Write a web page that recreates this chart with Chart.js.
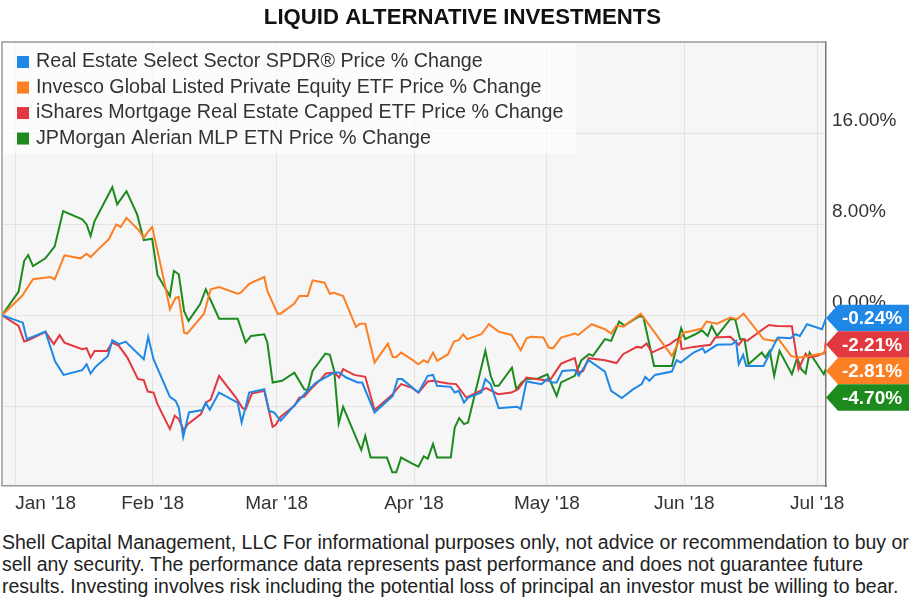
<!DOCTYPE html>
<html>
<head>
<meta charset="utf-8">
<script src="https://cdn.jsdelivr.net/npm/chart.js@4.4.1/dist/chart.umd.min.js"></script>
<style>
  body { margin: 0; background: #fff; font-family: "Liberation Sans", Arial, sans-serif; }
  #note { margin-top: 11px; padding-left: 2px; font-size: 19.5px; line-height: 22px; color: #222; white-space: nowrap; }
</style>
</head>
<body>
<canvas id="chart" width="923" height="520"></canvas>
<div id="note">Shell Capital Management, LLC For informational purposes only, not advice or recommendation to buy or<br>sell any security. The performance data represents past performance and does not guarantee future<br>results. Investing involves risk including the potential loss of principal an investor must be willing to bear.</div>
<script>
// days counted from Jan 1 2018, values are % change since Dec 29 2017
var monthDays = [0, 31, 59, 90, 120, 151, 181];
var monthLabels = ["Jan '18", "Feb '18", "Mar '18", "Apr '18", "May '18", "Jun '18", "Jul '18"];
var yTicks = [-8, 0, 8, 16];

var realEstateDays = [-3, 1.7, 2.6, 6.8, 9.0, 10.9, 15.1, 16.1, 17.0, 18.1, 20.9, 21.9, 23.4, 24.9, 29.0, 30.0, 31.2, 34.9, 36.2, 36.9, 37.9, 39.2, 42.2, 43.0, 43.9, 46.0, 50.2, 51.1, 52.8, 56.2, 57.3, 58.4, 59.9, 65.6, 67.9, 72.0, 73.1, 74.7, 77.3, 78.3, 81.1, 85.2, 86.3, 87.3, 91.0, 93.1, 94.3, 95.2, 98.3, 99.2, 100.1, 101.3, 102.2, 105.2, 106.1, 107.3, 109.1, 113.3, 114.1, 115.4, 118.8, 120.1, 121.2, 122.2, 123.5, 126.3, 127.2, 129.4, 133.1, 134.5, 136.9, 139.5, 141.4, 142.2, 143.1, 144.4, 148.2, 149.3, 150.2, 153.1, 155.2, 155.7, 156.9, 158.4, 161.8, 162.7, 163.3, 164.3, 165.0, 168.9, 170.4, 172.1, 175.0, 176.1, 177.1, 178.7, 182.1, 183];
var realEstatePct = [0, -0.65, -2.1, -1.44, -4.07, -5.24, -4.82, -4.3, -5.12, -4.54, -3.57, -2.19, -2.54, -2.31, -3.86, -1.9, -3.86, -7.17, -7.52, -8.1, -10.7, -8.54, -8.33, -7.7, -8.3, -6.79, -7.67, -9.42, -6.79, -6.49, -8.4, -8.54, -9.27, -6.79, -5.91, -5.04, -5.04, -5.47, -5.91, -5.91, -8.54, -7.08, -5.61, -5.61, -6.79, -5.32, -5.24, -6.2, -6.29, -6.79, -6.64, -7.67, -7.23, -6.79, -5.61, -6.05, -8.16, -8.04, -8.25, -5.82, -6.05, -5.61, -5.91, -5.91, -4.89, -4.82, -5.32, -3.95, -4.95, -6.64, -7.28, -6.49, -6.05, -5.41, -5.76, -5.24, -4.95, -3.95, -4.16, -3.28, -2.9, -3.28, -2.98, -2.6, -2.54, -2.25, -4.3, -3.48, -4.45, -4.45, -3.28, -1.96, -2.02, -1.67, -1.82, -0.79, -1.23, -0.24];

var privateEquityDays = [-3, 1.5, 4.0, 7.9, 8.9, 11.1, 14.7, 16.1, 17.0, 18.5, 21.1, 22.8, 23.8, 25.1, 27.9, 29.0, 29.8, 30.9, 32.1, 33.6, 34.9, 36.2, 36.9, 38.1, 38.8, 42.6, 44.1, 46.0, 50.2, 50.9, 52.8, 56.2, 56.9, 59.2, 59.9, 63.0, 64.1, 66.0, 67.1, 69.8, 71.0, 72.0, 74.0, 76.9, 77.8, 79.0, 81.1, 84.1, 85.2, 86.0, 87.1, 89.4, 91.0, 92.2, 93.1, 94.3, 95.2, 97.7, 99.0, 100.1, 101.1, 102.0, 105.2, 106.9, 109.1, 112.0, 114.1, 115.4, 116.5, 119.2, 120.4, 121.4, 123.2, 126.3, 127.1, 128.4, 130.1, 133.1, 134.5, 135.7, 137.3, 141.2, 148.2, 149.7, 150.8, 152.7, 155.0, 156.0, 158.4, 161.4, 162.9, 164.4, 168.9, 171.2, 172.3, 175.1, 176.5, 178.0, 181.0, 182.5, 183];
var privateEquityPct = [0, 1.69, 3.16, 3.36, 3.16, 5.26, 5.0, 5.4, 5.11, 5.7, 6.67, 7.98, 7.75, 8.56, 7.46, 6.8, 7.25, 7.75, 5.64, 3.0, 0.53, 1.54, 1.6, -1.53, -1.61, 0.14, 2.28, 2.48, 1.89, 1.98, 2.77, 3.36, 2.13, 0.14, 0.14, 1.02, 1.69, 1.69, 3.07, 2.86, 1.89, 1.98, 1.69, -1.03, -0.74, -0.74, -4.16, -2.49, -3.66, -3.66, -3.28, -3.86, -4.3, -3.95, -4.16, -3.28, -4.0, -3.42, -2.31, -2.19, -1.67, -2.1, -1.67, -0.79, -1.44, -1.73, -3.07, -2.02, -1.9, -1.96, -2.84, -2.89, -1.96, -1.61, -1.73, -1.32, -0.79, -1.23, -1.61, -0.9, -1.0, 0.14, -3.57, -2.4, -1.53, -1.38, -1.17, -0.56, -0.74, -0.21, -0.35, 0.14, -2.1, -2.25, -2.1, -3.57, -3.72, -3.66, -3.42, -3.37, -2.81];

var mortgageDays = [-3, 0.75, 2.0, 3.0, 6.8, 8.7, 10.0, 11.1, 15.1, 16.1, 17.0, 17.9, 20.7, 21.9, 23.4, 25.3, 27.7, 29.0, 29.9, 31.2, 32.1, 34.9, 36.0, 36.9, 38.1, 38.8, 41.9, 43.0, 44.1, 46.0, 49.8, 51.3, 52.0, 53.4, 56.2, 56.9, 58.1, 58.8, 59.9, 63.0, 64.1, 65.2, 66.7, 69.0, 70.1, 72.0, 73.1, 74.0, 76.5, 79.0, 81.1, 85.2, 87.1, 89.4, 91.0, 93.1, 94.3, 97.7, 99.5, 101.8, 104.1, 106.3, 109.0, 112.0, 113.5, 115.4, 117.6, 120.6, 123.2, 126.3, 127.1, 128.2, 129.4, 133.1, 135.7, 137.2, 140.3, 141.4, 142.5, 143.7, 147.8, 149.0, 150.1, 150.4, 153.1, 156.9, 158.0, 161.4, 163.3, 164.3, 165.2, 168.2, 170.1, 171.9, 175.3, 176.8, 178.4, 179.1, 181.0, 182.7, 183];
var mortgagePct = [0, -0.94, -2.31, -2.19, -1.46, -2.54, -1.75, -2.4, -2.98, -2.9, -3.72, -3.13, -3.13, -2.4, -2.69, -3.72, -5.61, -5.7, -6.7, -6.79, -7.81, -10.0, -8.83, -9.12, -10.15, -9.62, -8.68, -7.67, -7.4, -5.32, -7.23, -8.16, -8.25, -6.88, -6.64, -7.81, -9.8, -9.62, -8.92, -7.96, -7.23, -7.17, -6.49, -5.61, -5.12, -5.04, -5.47, -4.74, -5.24, -5.41, -8.33, -6.93, -6.05, -6.35, -6.79, -5.82, -5.76, -6.0, -6.05, -7.23, -6.79, -6.4, -6.93, -6.79, -6.49, -5.47, -5.61, -5.76, -4.25, -3.77, -5.04, -4.89, -3.77, -3.95, -4.2, -3.42, -2.78, -2.84, -2.49, -3.28, -2.54, -2.19, -1.96, -2.98, -2.78, -2.6, -1.96, -1.9, -2.6, -2.1, -2.25, -1.38, -0.85, -0.94, -0.97, -4.74, -3.37, -3.72, -3.57, -3.28, -2.21];

var mlpDays = [-3, 0.75, 2.0, 2.9, 4.0, 6.8, 8.9, 10.8, 15.1, 16.1, 17.0, 17.9, 21.9, 23.0, 25.1, 27.5, 29.0, 30.9, 32.1, 34.9, 35.8, 36.9, 38.1, 39.1, 41.7, 43.0, 46.0, 50.2, 52.0, 53.2, 56.2, 56.9, 58.1, 60.2, 63.0, 65.2, 66.0, 67.1, 70.0, 71.0, 72.0, 73.0, 74.0, 78.1, 79.0, 80.2, 83.9, 85.1, 86.0, 87.1, 89.4, 91.0, 92.2, 93.1, 94.3, 95.2, 98.3, 99.2, 100.2, 101.3, 102.2, 106.1, 107.3, 108.2, 109.1, 112.1, 113.1, 114.3, 115.4, 118.0, 120.1, 122.2, 123.2, 126.3, 127.8, 129.5, 130.4, 133.1, 134.5, 136.3, 137.5, 141.0, 141.8, 144.2, 148.2, 150.3, 151.2, 153.5, 155.0, 156.3, 157.2, 158.4, 161.4, 162.5, 163.6, 164.6, 165.5, 168.5, 169.3, 170.3, 171.3, 172.5, 175.3, 176.5, 177.4, 178.4, 179.3, 182.5, 183];
var mlpPct = [0, 2.07, 4.76, 5.29, 4.32, 5.0, 6.05, 9.15, 8.42, 7.98, 6.96, 8.27, 11.25, 9.74, 10.9, 8.86, 6.6, 6.72, 3.54, 1.69, 3.89, 3.6, 0.38, -0.5, 0.96, 2.28, -0.3, -0.3, -2.4, -1.82, -1.67, -2.4, -5.91, -5.76, -5.04, -6.49, -6.58, -4.89, -3.37, -3.48, -4.89, -9.5, -8.04, -11.84, -10.6, -12.5, -12.5, -13.8, -13.8, -12.5, -13.0, -13.3, -12.4, -12.6, -11.3, -12.5, -12.5, -9.86, -9.04, -9.56, -9.42, -3.13, -5.32, -6.2, -6.2, -4.6, -6.5, -5.9, -5.6, -5.56, -5.2, -7.08, -5.9, -5.32, -3.95, -3.42, -3.57, -2.1, -2.25, -0.56, -0.9, -0.06, -0.2, -4.45, -4.45, -1.14, -2.1, -1.67, -1.32, -1.82, -0.94, -1.82, -0.35, -0.35, -2.1, -2.1, -4.3, -3.28, -3.72, -3.13, -5.32, -3.13, -5.18, -3.72, -4.74, -5.12, -3.28, -5.18, -4.70];

var seriesLabels = [
  "Real Estate Select Sector SPDR\u00ae Price % Change",
  "Invesco Global Listed Private Equity ETF Price % Change",
  "iShares Mortgage Real Estate Capped ETF Price % Change",
  "JPMorgan Alerian MLP ETN Price % Change"
];
var seriesColors = ["#1f88e6", "#fd7f23", "#e2383f", "#1d8a1d"];
var seriesDays = [realEstateDays, privateEquityDays, mortgageDays, mlpDays];
var seriesPct = [realEstatePct, privateEquityPct, mortgagePct, mlpPct];

var FONT = '"Liberation Sans", Arial, sans-serif';

var datasets = seriesLabels.map(function (label, i) {
  return {
    label: label,
    data: seriesDays[i].map(function (d, j) { return { x: d, y: seriesPct[i][j] }; }),
    borderColor: seriesColors[i],
    borderWidth: 2,
    pointRadius: 0,
    tension: 0,
    fill: false
  };
});

var framePlugin = {
  id: 'frame',
  beforeDraw: function (chart) {
    var a = chart.chartArea, c = chart.ctx;
    c.save();
    c.fillStyle = '#f6f6f6';
    c.fillRect(a.left, a.top, a.right - a.left, a.bottom - a.top);
    c.restore();
  },
  afterDatasetsDraw: function (chart) {
    var a = chart.chartArea, c = chart.ctx;
    c.save();
    c.strokeStyle = '#9a9a9a';
    c.lineWidth = 1.5;
    c.beginPath();
    c.moveTo(a.left, a.bottom);
    c.lineTo(a.left, a.top);
    c.lineTo(a.right, a.top);
    c.stroke();
    // legend box inside the plot
    c.fillStyle = 'rgba(255,255,255,0.65)';
    c.fillRect(a.left + 1, a.top + 1, 573, 111);
    c.font = '19.7px ' + FONT;
    c.textBaseline = 'middle';
    chart.data.datasets.forEach(function (ds, i) {
      var y = a.top + 20 + i * 25.5;
      c.fillStyle = ds.borderColor;
      c.fillRect(17, y - 6, 12, 12);
      c.fillStyle = '#333';
      c.fillText(ds.label, 36, y);
    });
    c.restore();
  },
  afterDraw: function (chart) {
    var a = chart.chartArea, c = chart.ctx, ys = chart.scales.y;
    var items = chart.data.datasets.map(function (ds) {
      var last = ds.data[ds.data.length - 1].y;
      return { v: last, color: ds.borderColor };
    }).sort(function (p, q) { return q.v - p.v; });
    var h = 26.5, prev = -1e9;
    c.save();
    c.font = 'bold 19px ' + FONT;
    c.textAlign = 'center';
    c.textBaseline = 'middle';
    items.forEach(function (it) {
      var cy = Math.max(ys.getPixelForValue(it.v), prev + h);
      prev = cy;
      var x0 = a.right;
      c.fillStyle = it.color;
      c.beginPath();
      c.moveTo(x0, cy);
      c.lineTo(x0 + 12, cy - h / 2);
      c.lineTo(x0 + 83, cy - h / 2);
      c.lineTo(x0 + 83, cy + h / 2);
      c.lineTo(x0 + 12, cy + h / 2);
      c.closePath();
      c.fill();
      c.fillStyle = '#fff';
      c.fillText(it.v.toFixed(2) + '%', x0 + 46, cy + 1);
    });
    c.restore();
  }
};

var ctx = document.getElementById('chart').getContext('2d');
var chart = new Chart(ctx, {
  type: 'line',
  data: { datasets: datasets },
  options: {
    responsive: false,
    animation: false,
    layout: { padding: { left: 2, right: 0, top: 0, bottom: 5 } },
    plugins: {
      legend: { display: false },
      tooltip: { enabled: false },
      title: {
        display: true,
        text: 'LIQUID ALTERNATIVE INVESTMENTS',
        color: '#111',
        font: { family: FONT, size: 22.2, weight: 'bold' },
        padding: { top: 5, bottom: 10.4 }
      }
    },
    scales: {
      x: {
        type: 'linear',
        min: -3,
        max: 183,
        afterBuildTicks: function (s) {
          s.ticks = monthDays.map(function (v) { return { value: v }; }).concat([{ value: 183 }]);
        },
        afterFit: function (s) { s.height = 29; },
        ticks: {
          align: 'inner',
          autoSkip: false,
          maxRotation: 0,
          color: '#333',
          padding: 6,
          font: { family: FONT, size: 19 },
          callback: function (v, i) { return i < monthLabels.length ? monthLabels[i] : ''; }
        },
        grid: {
          drawTicks: false,
          color: function (c) { return c.index < monthDays.length ? '#e3e3e3' : 'rgba(0,0,0,0)'; }
        },
        border: { color: '#9a9a9a', width: 1.5 }
      },
      y: {
        position: 'right',
        min: -15,
        max: 24,
        afterBuildTicks: function (s) {
          s.ticks = yTicks.map(function (v) { return { value: v }; });
        },
        afterFit: function (s) { s.width = 97; },
        ticks: {
          color: '#333',
          padding: 6,
          labelOffset: -12.5,
          font: { family: FONT, size: 19 },
          callback: function (v) { return v.toFixed(2) + '%'; }
        },
        grid: { drawTicks: false, color: '#e3e3e3' },
        border: { color: '#777', width: 1.5 }
      }
    }
  },
  plugins: [framePlugin]
});
</script>
</body>
</html>
